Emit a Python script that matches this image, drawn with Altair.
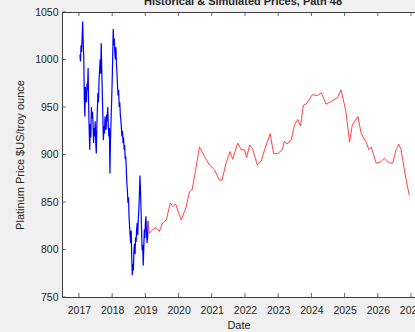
import altair as alt
import pandas as pd

# Historical platinum price, sampled every 6 days from 2017-01-10
hist_start = 2017.03
hist_step_days = 6
hist_price = [
    1005, 998, 1015, 1008, 1022, 1040, 1018, 1003, 960, 940,
    971, 962, 955, 975, 968, 991, 950, 925, 905, 932,
    918, 950, 938, 945, 933, 912, 928, 919, 935, 912,
    901, 930, 948, 965, 955, 978, 989, 1000, 985, 1017,
    990, 965, 940, 915, 930, 922, 940, 930, 926, 942,
    935, 950, 930, 919, 928, 880, 915, 935, 954, 975,
    1000, 1032, 1015, 1022, 1007, 1000, 1013, 995, 985, 971,
    962, 968, 950, 955, 942, 936, 928, 919, 925, 912,
    918, 905, 910, 895, 898, 885, 870, 862, 849, 855,
    835, 824, 815, 807, 820, 790, 773, 785, 778, 799,
    806, 795, 813, 808, 822, 828, 815, 832, 842, 858,
    878, 862, 842, 820, 799, 805, 783, 800, 821, 812,
    828, 835, 818, 807, 812, 830,
]
hist_year = [round(hist_start + i * hist_step_days / 365.25, 4) for i in range(len(hist_price))]

# Simulated path (decimal years, price)
sim_year = [
    2019.08, 2019.12, 2019.22, 2019.33, 2019.42, 2019.52, 2019.63, 2019.75, 2019.83, 2019.91,
    2020.08, 2020.23, 2020.33, 2020.41, 2020.53, 2020.63, 2020.78, 2020.93, 2021.08, 2021.23,
    2021.31, 2021.43, 2021.55, 2021.63, 2021.78, 2021.89, 2021.98, 2022.05, 2022.14, 2022.23,
    2022.37, 2022.49, 2022.59, 2022.76, 2022.86, 2022.99, 2023.12, 2023.19, 2023.26, 2023.39,
    2023.49, 2023.59, 2023.67, 2023.76, 2023.84, 2023.92, 2024.03, 2024.18, 2024.30, 2024.44,
    2024.61, 2024.79, 2024.89, 2024.98, 2025.04, 2025.15, 2025.23, 2025.40, 2025.50, 2025.65,
    2025.73, 2025.80, 2025.95, 2026.07, 2026.20, 2026.35, 2026.45, 2026.55, 2026.63, 2026.70,
    2026.80, 2026.87, 2026.95,
]
sim_price = [
    830, 817, 821, 823, 819, 828, 831, 849, 845, 848,
    831, 845, 861, 863, 887, 908, 898, 889, 884, 873,
    873, 891, 903, 895, 912, 905, 905, 897, 910, 906,
    889, 893, 905, 922, 901, 901, 905, 914, 911, 915,
    931, 937, 930, 952, 953, 957, 963, 962, 965, 953,
    956, 960, 968, 955, 945, 913, 931, 940, 922, 913,
    905, 908, 891, 892, 896, 891, 891, 905, 911, 905,
    884, 870, 857,
]

year_ticks = list(range(2017, 2028))
price_ticks = [750, 800, 850, 900, 950, 1000, 1050]
title_text = "Historical & Simulated Prices, Path 48"

FONT = "Liberation Sans"
AX = "#404040"

hist_df = pd.DataFrame({"year": hist_year, "price": hist_price})
sim_df = pd.DataFrame({"year": sim_year, "price": sim_price})

xscale = alt.Scale(domain=[2016.49, 2027.12], nice=False, zero=False)
yscale = alt.Scale(domain=[750, 1050], nice=False, zero=False)

x_axis = alt.Axis(values=year_ticks, format="d", title="Date", ticks=False, domain=False,
                  grid=False, labelOverlap=False, labelPadding=8, labelFontSize=10.5,
                  titleFontSize=11, titlePadding=4, labelColor="#262626",
                  titleColor="#262626", labelFont=FONT, titleFont=FONT,
                  titleFontWeight="normal")
y_axis = alt.Axis(values=price_ticks, format="d", title="Platinum Price $US/troy ounce",
                  ticks=False, domain=False, grid=False, labelOverlap=False,
                  labelPadding=4, labelFontSize=10.5, titleFontSize=11, titlePadding=9,
                  labelColor="#262626", titleColor="#262626", labelFont=FONT,
                  titleFont=FONT, titleFontWeight="normal")

X = alt.X("year:Q", scale=xscale, axis=x_axis)
Y = alt.Y("price:Q", scale=yscale, axis=y_axis)

hist_line = alt.Chart(hist_df).mark_line(color="#0000ff", strokeWidth=1.2).encode(x=X, y=Y)
sim_line = alt.Chart(sim_df).mark_line(color="#ff3030", strokeWidth=0.9).encode(x=X, y=Y)

# inward tick marks on the bottom, top and left edges of the box
xt = pd.DataFrame({"year": year_ticks})
yt = pd.DataFrame({"price": price_ticks})
bottom_ticks = alt.Chart(xt).mark_rule(color=AX, strokeWidth=0.8).encode(
    x=X, y=alt.value(285), y2=alt.value(281))
top_ticks = alt.Chart(xt).mark_rule(color=AX, strokeWidth=0.8).encode(
    x=X, y=alt.value(0), y2=alt.value(4))
left_ticks = alt.Chart(yt).mark_rule(color=AX, strokeWidth=0.8).encode(
    y=Y, x=alt.value(0), x2=alt.value(4))

title = alt.Chart(pd.DataFrame({"t": [title_text]})).mark_text(
    font=FONT, fontSize=11, fontWeight="bold", color="#262626",
    align="center", baseline="alphabetic",
).encode(x=alt.value(181), y=alt.value(-7), text="t:N")

chart = alt.layer(
    hist_line, sim_line, bottom_ticks, top_ticks, left_ticks, title
).properties(
    width=353,
    height=285,
    background="#f0f0f0",
    padding={"left": 62, "top": 12, "right": 0, "bottom": 35},
    autosize=alt.AutoSizeParams(type="none"),
).configure_axis(
    labelOverlap=False,
).configure_view(
    fill="white", stroke=AX, strokeWidth=1,
)

chart.save("out.html", embed_options={"renderer": "svg", "actions": False})
